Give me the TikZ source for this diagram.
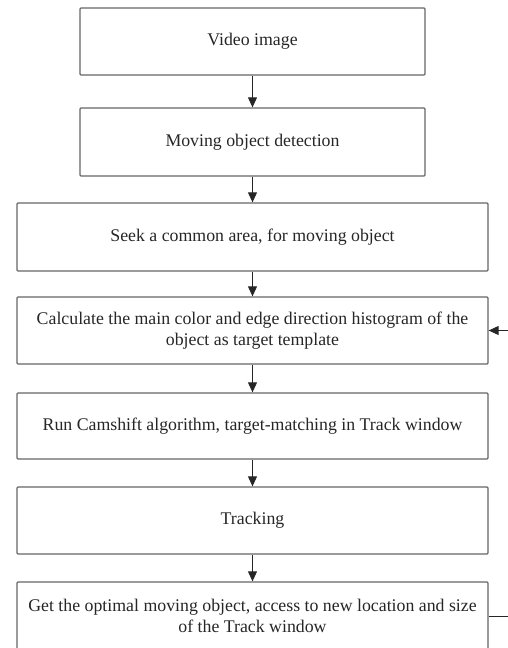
\documentclass[tikz,border=0pt]{standalone}
\usepackage{fontspec}
\setmainfont{Liberation Serif}
\usetikzlibrary{arrows.meta}

\tikzset{
    block/.style={
        draw=gray!80!black,
        line width=1.3pt,
        rounded corners=1pt,
        align=center,
        text=black!85,
        inner sep=0pt,
        font=\fontsize{17.8}{21.5}\selectfont
    },
    flow/.style={
        ->,
        line width=0.9pt,
        black!85
    }
}

\begin{document}
\begin{tikzpicture}[x=1pt, y=-1pt, >={Triangle[length=10pt,width=9pt]}]

\useasboundingbox (0,0) rectangle (508,648);
\clip (0,0) rectangle (508,648);

% ---------------- blocs ----------------

\node[block, minimum width=345pt, minimum height=67pt] (video) at (252.5,41.5)
    {Video image};

\node[block, minimum width=345pt, minimum height=68pt] (detect) at (252.5,142)
    {Moving object detection};

\node[block, minimum width=471pt, minimum height=68pt] (area) at (252.5,237)
    {Seek a common area, for moving object};

\node[block, minimum width=471pt, minimum height=67pt] (templ) at (252.5,330.5)
    {Calculate the main color and edge direction histogram of the\\object as target template};

\node[block, minimum width=471pt, minimum height=66pt] (camshift) at (252.5,426)
    {Run Camshift algorithm, target-matching in Track window};

\node[block, minimum width=471pt, minimum height=67pt] (track) at (252.5,520.5)
    {Tracking};

\node[block, minimum width=471pt, minimum height=68pt] (optimal) at (252.5,616)
    {Get the optimal moving object, access to new location and size\\of the Track window};

% ---------------- fletxes ----------------

\draw[flow] (video) -- (detect);
\draw[flow] (detect) -- (area);
\draw[flow] (area) -- (templ);
\draw[flow] (templ) -- (camshift);
\draw[flow] (camshift) -- (track);
\draw[flow] (track) -- (optimal);

% retorn (tallat a la vora)
\coordinate (backout) at (508,616);
\coordinate (backin) at (508,330.5);

\draw[line width=0.9pt, black!85] (optimal.east) -- (backout);
\draw[flow] (backin) -- (templ.east);

\end{tikzpicture}
\end{document}
